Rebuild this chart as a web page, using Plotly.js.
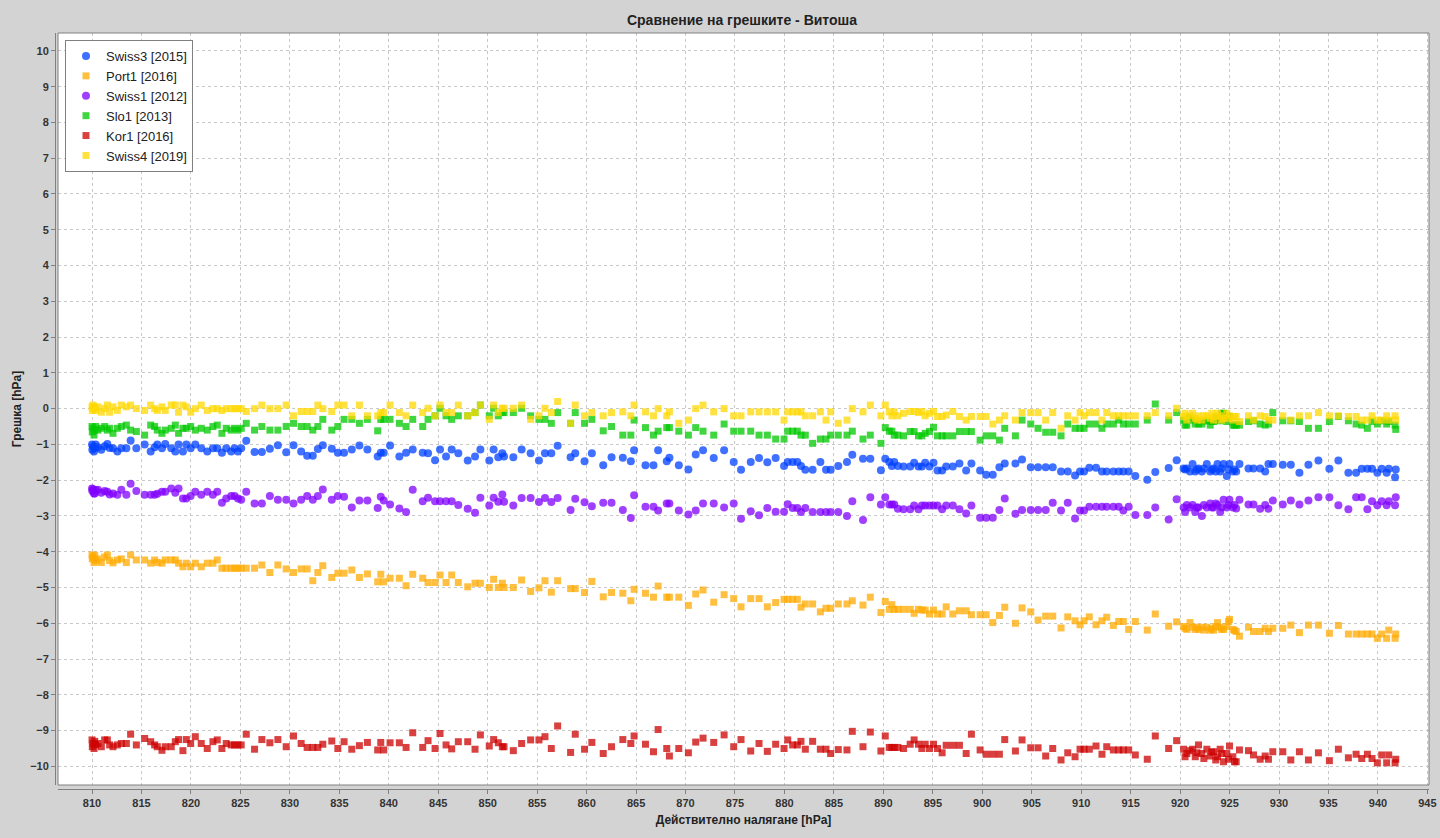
<!DOCTYPE html>
<html>
<head>
<meta charset="utf-8">
<script src="https://cdn.plot.ly/plotly-3.0.1.min.js"></script>
<style>
  html, body { margin: 0; padding: 0; background: #d3d3d3; }
  #chart { width: 1440px; height: 838px; }
</style>
</head>
<body>
<div id="chart"></div>
<script>
// actual pressure [hPa], shared by all sensors
var pressure = [
  810.0, 810.03, 810.1, 810.2, 810.27, 810.37, 810.6, 810.94, 811.28, 811.55, 811.78, 812.12, 812.56, 812.96, 813.47, 813.9, 814.48, 815.32, 815.93, 816.33, 816.6, 817.07, 817.4, 818.01, 818.42, 818.75, 819.19, 819.53, 819.97, 820.44, 821.04, 821.65, 822.22, 822.66, 823.13, 823.57, 824.07, 824.41, 824.75, 825.08, 825.59, 826.43, 827.17, 827.98, 828.79, 829.63, 830.37, 831.14, 831.75, 832.32, 832.83, 833.33, 834.24, 834.85,
  835.48, 836.26, 837.03, 837.84, 838.88, 839.19, 839.49, 840.13, 841.07, 841.75, 842.42, 843.43, 843.97, 844.68, 845.18, 845.79, 846.36, 847.03, 847.98, 848.72, 849.26, 850.16, 850.6, 851.07, 851.48, 851.65, 852.59, 853.43, 854.34, 855.18, 855.79, 856.43, 857.07, 858.38, 858.85, 859.79, 860.53, 861.68, 862.52,
  863.66, 864.47, 864.8, 865.95, 866.76, 867.23, 868.1, 868.37, 869.32, 870.29, 871.03, 871.77, 872.85, 873.9, 874.87, 875.61, 876.59, 877.43, 878.27, 879.11, 879.96, 880.33, 880.83, 881.3, 881.67, 882.11, 882.85, 883.63, 884.2, 884.67, 885.44, 886.32, 886.86, 887.94, 888.68, 889.75, 890.19, 890.6, 890.86, 891.1, 891.47,
  892.04, 892.71, 893.11, 893.55, 893.89, 894.23, 894.66, 895.07, 895.47, 895.94, 896.35, 897.02, 897.69, 898.37, 898.9, 899.78, 900.39, 901.06, 901.73, 902.27, 903.35, 904.02, 904.9, 905.64, 906.41, 907.12, 907.96, 908.64, 909.38, 909.88, 910.29, 910.82, 911.5, 912.1, 912.58, 913.25, 913.79, 914.26, 914.8, 915.47, 916.68, 917.49, 918.84, 919.65,
  920.35, 920.5, 920.68, 921.0, 921.26, 921.53, 921.7, 921.86, 922.2, 922.4, 922.7, 923.04, 923.2, 923.38, 923.6, 923.78, 924.05, 924.2, 924.39, 924.72, 924.9, 924.99, 925.33, 925.5, 925.67, 926.0, 926.91, 927.42, 928.09, 928.6, 928.93, 929.37, 930.38, 931.19, 932.06, 932.97, 933.98, 935.09, 936.0, 937.01, 937.79, 938.36, 938.93, 939.4, 939.94, 940.38, 940.88, 941.09, 941.73, 941.8
];

// error [hPa] per sensor
var swiss3 = [
  -1.0, -1.15, -1.06, -1.2, -1.1, -1.0, -1.08, -1.15, -1.05, -0.99, -1.1, -1.11, -1.2, -1.11, -1.11, -0.89, -1.11, -1.0, -1.2, -1.08, -1.0, -1.11, -0.99, -1.11, -1.2, -1.0, -1.2, -1.0, -1.11, -1.0, -1.11, -1.2, -1.11, -1.11, -1.23, -1.11, -1.2, -1.11, -1.2, -1.11, -0.9, -1.21, -1.21, -1.12, -1.02, -1.22, -1.02, -1.2, -1.32, -1.32, -1.13, -1.02, -1.12, -1.23,
  -1.23, -1.14, -1.03, -1.14, -1.34, -1.23, -1.23, -1.03, -1.34, -1.23, -1.14, -1.23, -1.25, -1.44, -1.14, -1.34, -1.14, -1.25, -1.45, -1.34, -1.14, -1.45, -1.14, -1.36, -1.25, -1.34, -1.36, -1.14, -1.25, -1.45, -1.25, -1.25, -1.04, -1.36, -1.25, -1.47, -1.25, -1.58, -1.36,
  -1.37, -1.47, -1.16, -1.58, -1.58, -1.16, -1.47, -1.37, -1.58, -1.7, -1.28, -1.16, -1.38, -1.16, -1.49, -1.71, -1.49, -1.38, -1.5, -1.38, -1.6, -1.49, -1.49, -1.49, -1.6, -1.71, -1.71, -1.49, -1.71, -1.71, -1.6, -1.49, -1.29, -1.4, -1.4, -1.72, -1.4, -1.49, -1.6, -1.49, -1.6,
  -1.62, -1.62, -1.51, -1.62, -1.62, -1.51, -1.62, -1.51, -1.73, -1.73, -1.62, -1.62, -1.53, -1.73, -1.53, -1.73, -1.85, -1.85, -1.64, -1.53, -1.53, -1.42, -1.64, -1.64, -1.64, -1.64, -1.76, -1.76, -1.87, -1.76, -1.76, -1.65, -1.65, -1.76, -1.76, -1.76, -1.76, -1.76, -1.76, -1.88, -1.99, -1.77, -1.66, -1.44,
  -1.67, -1.7, -1.67, -1.76, -1.55, -1.76, -1.7, -1.67, -1.76, -1.67, -1.55, -1.76, -1.7, -1.67, -1.76, -1.55, -1.76, -1.67, -1.55, -1.88, -1.7, -1.55, -1.76, -1.7, -1.76, -1.55, -1.67, -1.67, -1.67, -1.76, -1.55, -1.55, -1.57, -1.57, -1.79, -1.57, -1.45, -1.68, -1.45, -1.79, -1.79, -1.68, -1.68, -1.68, -1.79, -1.68, -1.79, -1.68, -1.92, -1.7
];
var port1 = [
  -4.09, -4.2, -4.15, -4.3, -4.1, -4.25, -4.2, -4.3, -4.15, -4.09, -4.25, -4.31, -4.23, -4.2, -4.3, -4.09, -4.23, -4.23, -4.32, -4.23, -4.3, -4.32, -4.23, -4.23, -4.23, -4.32, -4.42, -4.32, -4.42, -4.32, -4.42, -4.32, -4.32, -4.23, -4.46, -4.46, -4.46, -4.46, -4.46, -4.46, -4.46, -4.46, -4.37, -4.58, -4.37, -4.48, -4.58, -4.48, -4.48, -4.81, -4.58, -4.39, -4.72, -4.6,
  -4.6, -4.51, -4.72, -4.62, -4.84, -4.63, -4.84, -4.74, -4.74, -4.95, -4.63, -4.74, -4.86, -4.86, -4.65, -4.86, -4.65, -4.86, -4.98, -4.88, -4.88, -5.0, -4.77, -5.0, -4.88, -5.0, -5.0, -4.79, -5.11, -5.01, -4.81, -5.13, -4.81, -5.03, -5.03, -5.14, -4.83, -5.26, -5.14,
  -5.16, -5.37, -5.05, -5.16, -5.27, -4.96, -5.27, -5.27, -5.27, -5.5, -5.18, -5.07, -5.41, -5.2, -5.31, -5.54, -5.31, -5.31, -5.54, -5.42, -5.33, -5.33, -5.33, -5.33, -5.55, -5.46, -5.46, -5.68, -5.58, -5.58, -5.46, -5.46, -5.37, -5.49, -5.27, -5.7, -5.39, -5.61, -5.48, -5.61, -5.61,
  -5.61, -5.61, -5.72, -5.61, -5.63, -5.63, -5.74, -5.63, -5.74, -5.74, -5.54, -5.74, -5.65, -5.65, -5.76, -5.76, -5.76, -5.98, -5.78, -5.55, -6.0, -5.57, -5.68, -5.91, -5.8, -5.8, -6.13, -5.82, -5.93, -6.04, -5.93, -5.82, -6.04, -5.93, -5.83, -6.06, -5.95, -5.95, -6.17, -5.95, -6.19, -5.74, -6.08, -5.96,
  -6.09, -6.14, -6.17, -5.98, -6.11, -6.17, -6.11, -6.17, -6.11, -6.19, -6.11, -6.19, -6.14, -6.19, -6.09, -5.98, -6.11, -6.17, -6.17, -6.09, -5.95, -5.89, -6.17, -6.2, -6.23, -6.36, -6.11, -6.23, -6.23, -6.14, -6.23, -6.14, -6.14, -6.05, -6.26, -6.05, -6.05, -6.28, -6.06, -6.3, -6.3, -6.3, -6.3, -6.3, -6.42, -6.3, -6.42, -6.19, -6.42, -6.3
];
var swiss1 = [
  -2.23, -2.3, -2.25, -2.37, -2.37, -2.28, -2.27, -2.35, -2.3, -2.32, -2.4, -2.37, -2.41, -2.27, -2.41, -2.1, -2.3, -2.41, -2.41, -2.41, -2.38, -2.32, -2.32, -2.23, -2.35, -2.23, -2.51, -2.51, -2.44, -2.32, -2.41, -2.32, -2.41, -2.32, -2.63, -2.51, -2.44, -2.44, -2.51, -2.55, -2.32, -2.65, -2.65, -2.44, -2.55, -2.55, -2.65, -2.55, -2.44, -2.55, -2.44, -2.26, -2.55, -2.44,
  -2.46, -2.76, -2.57, -2.57, -2.78, -2.46, -2.57, -2.68, -2.79, -2.89, -2.27, -2.59, -2.49, -2.59, -2.59, -2.59, -2.59, -2.69, -2.8, -2.91, -2.49, -2.71, -2.49, -2.6, -2.4, -2.6, -2.71, -2.5, -2.5, -2.61, -2.5, -2.61, -2.5, -2.83, -2.52, -2.62, -2.73, -2.63, -2.63,
  -2.83, -3.06, -2.42, -2.74, -2.74, -2.85, -2.65, -2.65, -2.85, -2.96, -2.85, -2.65, -2.65, -2.76, -2.65, -3.08, -2.87, -2.98, -2.78, -2.88, -2.88, -2.67, -2.78, -2.78, -2.89, -2.78, -2.89, -2.89, -2.89, -2.89, -2.89, -3.0, -2.59, -3.11, -2.48, -2.68, -2.48, -2.68, -2.68, -2.68, -2.8,
  -2.81, -2.81, -2.71, -2.81, -2.71, -2.71, -2.71, -2.71, -2.71, -2.81, -2.71, -2.71, -2.81, -2.93, -2.71, -3.05, -3.05, -3.05, -2.83, -2.51, -2.94, -2.83, -2.83, -2.83, -2.83, -2.63, -2.85, -2.63, -3.07, -2.85, -2.85, -2.74, -2.74, -2.74, -2.74, -2.74, -2.74, -2.85, -2.74, -2.97, -2.97, -2.76, -3.1, -2.53,
  -2.76, -2.89, -2.69, -2.76, -2.69, -2.89, -2.76, -2.76, -3.0, -2.69, -2.76, -2.65, -2.76, -2.76, -2.65, -2.69, -2.89, -2.76, -2.55, -2.76, -2.69, -2.55, -2.76, -2.69, -2.79, -2.55, -2.68, -2.68, -2.8, -2.69, -2.8, -2.57, -2.68, -2.57, -2.68, -2.57, -2.48, -2.48, -2.7, -2.81, -2.48, -2.48, -2.81, -2.59, -2.7, -2.59, -2.7, -2.59, -2.7, -2.48
];
var slo1 = [
  -0.5, -0.65, -0.55, -0.74, -0.6, -0.5, -0.6, -0.55, -0.5, -0.6, -0.55, -0.69, -0.55, -0.5, -0.46, -0.6, -0.64, -0.74, -0.46, -0.5, -0.6, -0.69, -0.6, -0.55, -0.46, -0.69, -0.55, -0.55, -0.5, -0.6, -0.55, -0.6, -0.5, -0.46, -0.69, -0.55, -0.6, -0.55, -0.6, -0.55, -0.41, -0.6, -0.5, -0.6, -0.6, -0.5, -0.41, -0.5, -0.5, -0.6, -0.5, -0.3, -0.6, -0.5,
  -0.3, -0.3, -0.41, -0.3, -0.62, -0.3, -0.3, -0.3, -0.41, -0.5, -0.3, -0.5, -0.3, -0.2, 0.01, -0.2, -0.3, -0.2, -0.2, -0.11, 0.1, -0.2, 0.01, -0.2, -0.11, -0.11, -0.11, 0.01, -0.2, -0.3, -0.3, -0.41, -0.11, -0.41, -0.11, -0.41, -0.3, -0.62, -0.5,
  -0.74, -0.74, -0.32, -0.53, -0.74, -0.63, -0.53, -0.53, -0.63, -0.74, -0.53, -0.63, -0.74, -0.43, -0.63, -0.63, -0.63, -0.74, -0.74, -0.85, -0.85, -0.63, -0.63, -0.63, -0.74, -0.74, -0.97, -0.85, -0.85, -0.74, -0.74, -0.74, -0.63, -0.85, -0.74, -0.97, -0.53, -0.63, -0.63, -0.74, -0.74,
  -0.76, -0.64, -0.64, -0.76, -0.76, -0.69, -0.64, -0.52, -0.76, -0.76, -0.76, -0.76, -0.64, -0.64, -0.64, -0.88, -0.76, -0.76, -0.88, -0.55, -0.76, -0.32, -0.43, -0.55, -0.66, -0.66, -0.76, -0.43, -0.55, -0.55, -0.55, -0.43, -0.43, -0.55, -0.43, -0.43, -0.32, -0.43, -0.43, -0.43, -0.32, 0.13, -0.32, -0.11,
  -0.32, -0.46, -0.46, -0.24, -0.32, -0.43, -0.34, -0.43, -0.43, -0.34, -0.34, -0.46, -0.36, -0.36, -0.24, -0.24, -0.34, -0.13, -0.13, -0.36, -0.22, -0.22, -0.46, -0.46, -0.46, -0.46, -0.36, -0.34, -0.43, -0.46, -0.43, -0.11, -0.34, -0.34, -0.36, -0.55, -0.55, -0.36, -0.22, -0.34, -0.43, -0.46, -0.55, -0.36, -0.43, -0.34, -0.43, -0.36, -0.46, -0.58
];
var kor1 = [
  -9.26, -9.45, -9.36, -9.5, -9.3, -9.4, -9.36, -9.45, -9.26, -9.26, -9.4, -9.45, -9.4, -9.36, -9.36, -9.1, -9.4, -9.22, -9.31, -9.4, -9.45, -9.55, -9.45, -9.45, -9.31, -9.25, -9.56, -9.25, -9.36, -9.17, -9.36, -9.5, -9.31, -9.26, -9.5, -9.36, -9.4, -9.4, -9.4, -9.4, -9.1, -9.52, -9.25, -9.34, -9.25, -9.45, -9.15, -9.36, -9.47, -9.47, -9.47, -9.38, -9.29, -9.5,
  -9.31, -9.52, -9.42, -9.33, -9.54, -9.33, -9.54, -9.34, -9.34, -9.47, -9.06, -9.47, -9.28, -9.5, -9.08, -9.4, -9.51, -9.31, -9.31, -9.52, -9.12, -9.43, -9.25, -9.34, -9.45, -9.45, -9.56, -9.36, -9.26, -9.26, -9.17, -9.5, -8.87, -9.61, -9.1, -9.52, -9.33, -9.64, -9.45,
  -9.25, -9.36, -9.15, -9.38, -9.59, -8.97, -9.5, -9.71, -9.5, -9.62, -9.32, -9.21, -9.33, -9.12, -9.45, -9.25, -9.57, -9.36, -9.58, -9.38, -9.5, -9.26, -9.4, -9.4, -9.3, -9.52, -9.3, -9.52, -9.52, -9.64, -9.53, -9.54, -9.02, -9.45, -9.04, -9.57, -9.15, -9.47, -9.47, -9.47, -9.47,
  -9.5, -9.38, -9.26, -9.38, -9.5, -9.38, -9.5, -9.38, -9.5, -9.62, -9.41, -9.41, -9.41, -9.64, -9.1, -9.54, -9.66, -9.66, -9.66, -9.25, -9.57, -9.26, -9.48, -9.48, -9.71, -9.5, -9.82, -9.62, -9.73, -9.52, -9.52, -9.52, -9.43, -9.66, -9.45, -9.54, -9.54, -9.54, -9.54, -9.68, -9.8, -9.15, -9.5, -9.28,
  -9.52, -9.73, -9.64, -9.56, -9.52, -9.73, -9.62, -9.4, -9.64, -9.78, -9.52, -9.71, -9.6, -9.59, -9.82, -9.73, -9.52, -9.64, -9.87, -9.64, -9.8, -9.43, -9.73, -9.87, -9.87, -9.54, -9.56, -9.68, -9.8, -9.71, -9.8, -9.59, -9.59, -9.82, -9.59, -9.82, -9.62, -9.84, -9.52, -9.76, -9.66, -9.78, -9.66, -9.78, -9.9, -9.68, -9.9, -9.68, -9.9, -9.8
];
var swiss4 = [
  0.05, -0.05, 0.1, 0.0, 0.05, -0.05, 0.05, -0.1, 0.0, 0.1, -0.1, 0.05, -0.05, 0.1, 0.05, 0.1, 0.0, -0.05, 0.1, 0.0, -0.05, 0.05, -0.05, 0.1, 0.1, -0.1, 0.1, 0.05, -0.1, 0.0, 0.1, -0.05, 0.0, 0.0, -0.05, 0.0, 0.0, 0.0, 0.0, 0.0, -0.08, 0.0, 0.1, 0.0, 0.0, 0.1, -0.2, -0.08, -0.08, -0.08, 0.1, 0.0, -0.08, 0.1,
  0.1, -0.2, 0.1, -0.2, -0.2, -0.11, -0.11, 0.1, -0.11, -0.2, 0.1, -0.11, 0.01, -0.2, 0.1, -0.11, -0.11, 0.1, -0.2, -0.11, 0.1, -0.3, 0.1, -0.11, 0.01, 0.01, 0.01, 0.1, -0.3, -0.2, 0.01, -0.11, 0.2, -0.41, 0.1, -0.2, -0.11, -0.2, -0.11,
  -0.09, -0.2, 0.1, -0.09, -0.2, 0.0, -0.2, -0.09, -0.41, -0.32, 0.0, 0.1, -0.09, 0.0, -0.2, -0.2, -0.09, -0.09, -0.09, -0.09, -0.32, -0.09, -0.09, -0.09, -0.09, -0.2, -0.2, -0.09, -0.32, -0.09, -0.41, -0.32, 0.0, -0.09, 0.1, -0.2, 0.1, -0.09, -0.2, -0.09, -0.2,
  -0.13, -0.08, -0.08, -0.11, -0.08, -0.2, -0.13, -0.08, -0.22, -0.22, -0.18, -0.08, -0.22, -0.32, -0.22, -0.22, -0.22, -0.43, -0.32, -0.2, -0.32, -0.11, -0.11, -0.11, -0.32, -0.11, -0.55, -0.2, -0.32, -0.11, -0.2, -0.11, -0.11, -0.32, -0.11, -0.2, -0.2, -0.2, -0.2, -0.2, -0.2, -0.11, -0.2, 0.01,
  -0.22, -0.13, -0.32, -0.2, -0.13, -0.27, -0.32, -0.2, -0.32, -0.2, -0.2, -0.27, -0.13, -0.32, -0.22, -0.13, -0.2, -0.32, -0.27, -0.13, -0.27, -0.2, -0.32, -0.22, -0.22, -0.36, -0.2, -0.32, -0.2, -0.22, -0.32, -0.32, -0.2, -0.32, -0.2, -0.2, -0.11, -0.2, -0.2, -0.22, -0.22, -0.32, -0.32, -0.2, -0.32, -0.32, -0.2, -0.32, -0.2, -0.32
];

var seriesNames = ['Swiss3 [2015]', 'Port1 [2016]', 'Swiss1 [2012]', 'Slo1 [2013]', 'Kor1 [2016]', 'Swiss4 [2019]'];
var seriesValues = [swiss3, port1, swiss1, slo1, kor1, swiss4];
var seriesColors = ['#0040ff', '#ffaa00', '#8000ff', '#00c800', '#cc0000', '#ffd800'];
var seriesSymbols = ['circle', 'square', 'circle', 'square', 'square', 'square'];

var font = 'Liberation Sans, Arial, sans-serif';

var data = seriesNames.map(function (name, i) {
  return {
    x: pressure,
    y: seriesValues[i],
    name: name,
    type: 'scatter',
    mode: 'markers',
    marker: {
      color: seriesColors[i],
      symbol: seriesSymbols[i],
      size: seriesSymbols[i] === 'circle' ? 8 : 7,
      opacity: 0.75,
      line: { width: 0 }
    },
    hoverinfo: 'skip'
  };
});

var tickFont = { family: font, size: 11, color: '#333333', weight: 'bold' };
var axisTitleFont = { family: font, size: 12, color: '#222222', weight: 'bold' };

var layout = {
  width: 1440,
  height: 838,
  paper_bgcolor: '#d3d3d3',
  plot_bgcolor: '#ffffff',
  margin: { l: 55, r: 11, t: 33, b: 49, pad: 0 },
  title: {
    text: 'Сравнение на грешките - Витоша',
    font: { family: font, size: 14, color: '#222222', weight: 'bold' },
    x: 0.5, xref: 'paper', xanchor: 'center',
    y: 1 - 20 / 838, yref: 'container', yanchor: 'middle'
  },
  xaxis: {
    range: [806.56, 945.16],
    domain: [3 / 1374, 1],
    anchor: 'free',
    position: 0,
    tick0: 810,
    dtick: 5,
    ticks: 'outside',
    ticklen: 4,
    tickcolor: '#808080',
    showline: true,
    linecolor: '#808080',
    showgrid: true,
    gridcolor: '#c8c8c8',
    griddash: '3px,3px',
    zeroline: false,
    tickfont: tickFont,
    title: { text: 'Действително налягане [hPa]', font: axisTitleFont, standoff: 7 }
  },
  yaxis: {
    range: [-10.52, 10.5],
    domain: [4 / 756, 1],
    anchor: 'free',
    position: 0,
    tick0: 0,
    dtick: 1,
    ticks: 'outside',
    ticklen: 4,
    tickcolor: '#808080',
    showline: true,
    linecolor: '#808080',
    showgrid: true,
    gridcolor: '#c8c8c8',
    griddash: '3px,3px',
    zeroline: false,
    tickfont: tickFont,
    title: { text: 'Грешка [hPa]', font: axisTitleFont, standoff: 4 }
  },
  showlegend: true,
  legend: {
    x: 10 / 1374, xanchor: 'left',
    y: (789 - 40) / 756, yanchor: 'top',
    bgcolor: '#ffffff',
    bordercolor: '#808080',
    borderwidth: 1,
    font: { family: font, size: 13, color: '#222222' },
    traceorder: 'normal'
  },
  shapes: [{
    type: 'rect', xref: 'paper', yref: 'paper',
    x0: 3 / 1374, x1: 1, y0: 4 / 756, y1: 1,
    line: { color: '#808080', width: 1 },
    fillcolor: 'rgba(0,0,0,0)',
    layer: 'above'
  }],
  hovermode: false
};

Plotly.newPlot('chart', data, layout, { staticPlot: true, displayModeBar: false });
</script>
</body>
</html>
